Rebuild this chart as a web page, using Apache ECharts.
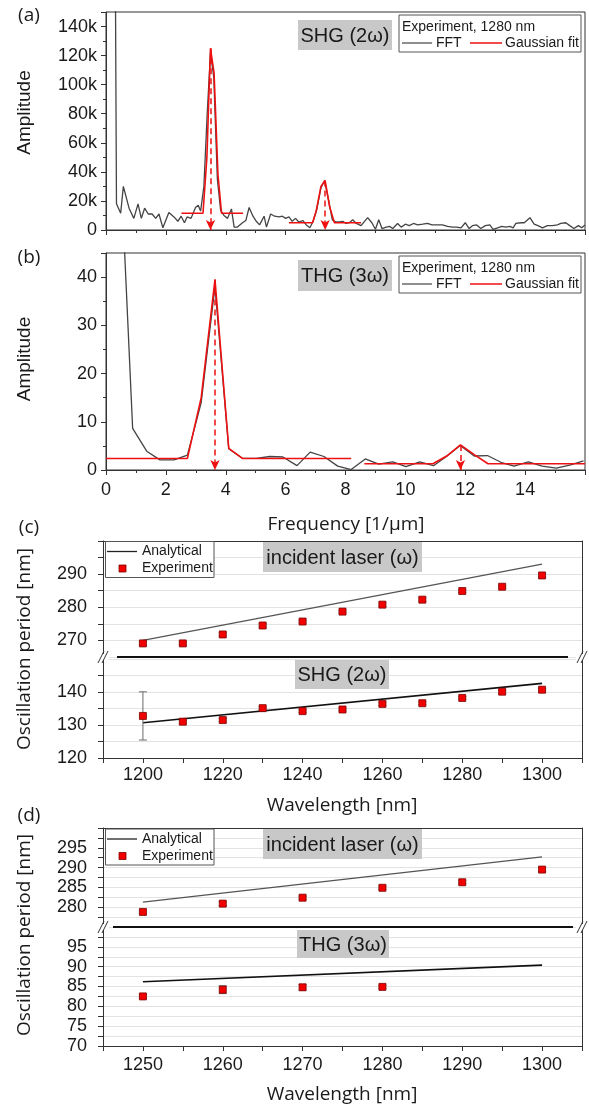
<!DOCTYPE html>
<html>
<head>
<meta charset="utf-8">
<title>FFT amplitude and oscillation period</title>
<script src="https://cdn.jsdelivr.net/npm/echarts@6/dist/echarts.min.js"></script>
<style>html,body{margin:0;padding:0;background:#fff;}</style>
</head>
<body>
<div id="main" style="width:589px;height:1108px;"></div>
<script>
// ---- (a) SHG, FFT amplitude, [frequency 1/um, amplitude k] ----
var fftA = [[0.26,400],[0.35,18],[0.49,11.5],[0.58,30],[0.77,15],[0.93,8],[1.07,18],[1.18,8],[1.29,15],
  [1.41,11],[1.54,11],[1.66,8],[1.77,11],[1.9,1.5],[2.1,12],[2.27,9],[2.4,6],[2.51,9.5],[2.62,5],[2.71,9],
  [2.84,8],[2.99,15.5],[3.08,17],[3.16,13],[3.27,30],[3.38,80],[3.49,122],[3.6,105],[3.72,35],[3.83,13.5],
  [3.94,10],[4.06,8],[4.19,14.5],[4.28,2],[4.39,2],[4.56,5],[4.67,6.5],[4.78,15.5],[4.91,9.5],[5.02,6],
  [5.13,3.5],[5.28,9.5],[5.36,2],[5.5,11],[5.63,9.5],[5.78,9],[5.89,9.5],[6.0,8],[6.11,9],[6.22,6],[6.33,8],
  [6.44,5.5],[6.58,6.5],[6.69,3.5],[6.81,1.5],[6.92,6],[7.04,14],[7.18,29],[7.3,34],[7.44,20],[7.56,7],
  [7.68,5.5],[7.8,5.5],[7.91,6],[8.02,4.5],[8.13,5],[8.24,7],[8.36,4.5],[8.52,3],[8.74,8.5],[8.88,5],[9.0,0.5],
  [9.11,7],[9.22,1],[9.36,2],[9.47,2.5],[9.58,1],[9.74,4.5],[9.86,2],[10.0,4],[10.13,3],[10.27,4.5],[10.41,3.5],
  [10.58,4],[10.74,4.5],[10.89,3.5],[11.08,3.5],[11.24,3.5],[11.41,2.5],[11.58,2],[11.71,2],[11.86,1.5],
  [12.0,5],[12.13,1],[12.24,3],[12.38,3.5],[12.52,1],[12.67,3],[12.82,3.5],[12.93,0.5],[13.08,1.5],[13.22,2.5],
  [13.36,2],[13.49,2.5],[13.6,1.5],[13.69,4.5],[13.86,5],[13.97,5],[14.16,8.5],[14.3,4],[14.43,3],[14.58,1.5],
  [14.74,3],[14.91,3],[15.08,3.5],[15.19,4.5],[15.36,5],[15.49,3],[15.63,1],[15.78,3],[15.89,1.5],[16.0,3.5]];
var fitA1 = [[2.52,11.5],[3.24,11.5],[3.37,50],[3.49,125],[3.61,108],[3.74,38],[3.86,11.5],[4.58,11.5]];
var fitA2 = [[6.11,5],[6.9,5],[7.02,13],[7.18,30],[7.32,34],[7.47,16],[7.63,5],[7.75,5],[8.52,5]];
var peaksA = [[3.49,125],[7.32,34]];

// ---- (b) THG, FFT amplitude ----
var fftB = [[0.44,70],[0.89,8.65],[1.36,3.9],[1.8,2.1],[2.27,2.1],[2.72,3.1],[3.18,14],[3.64,38],[4.1,4.4],
  [4.56,2.4],[5.02,2.4],[5.47,2.8],[5.91,2.7],[6.38,0.9],[6.82,3.7],[7.28,2.8],[7.74,0.8],[8.19,0.1],[8.66,2.3],
  [9.11,1.2],[9.58,1.7],[10.02,0.7],[10.48,1.7],[10.94,0.9],[11.37,2.8],[11.83,5.1],[12.3,2.9],[12.74,3.0],
  [13.19,1.6],[13.63,0.8],[14.11,1.7],[14.57,0.8],[15.04,0.4],[15.49,1.0],[15.95,1.9]];
var fitB1 = [[0,2.4],[2.72,2.4],[3.18,15],[3.64,39.5],[4.1,4.5],[4.56,2.4],[8.19,2.4]];
var fitB2 = [[8.63,1.3],[10.92,1.3],[11.38,2.9],[11.84,5.2],[12.3,3.2],[12.76,1.3],[16,1.3]];
var peaksB = [[3.64,39.5],[11.84,5.2]];

// ---- (c) incident laser + SHG periods ----
var wlC = [1200,1210,1220,1230,1240,1250,1260,1270,1280,1290,1300];
var laserC = [269.1,269.1,271.8,274.5,275.7,278.7,280.8,282.3,284.9,286.2,289.6];
var laserCErr = [0.5,0.4,0.5,0.5,0.4,0.4,0.5,0.5,0.4,0.4,0.5];
var shgC = [132.75,131.0,131.5,135.1,134.2,134.7,136.4,136.6,138.2,140.1,140.7];
var shgCErr = [7.3,0.4,0.5,0.5,0.4,0.4,0.5,0.4,0.4,0.5,0.4];
var analyticLaserC = [[1200,270.0],[1300,293.0]];
var analyticShgC = [[1200,130.7],[1300,142.6]];

// ---- (d) incident laser + THG periods ----
var wlD = [1250,1260,1270,1280,1290,1300];
var laserD = [278.8,280.9,282.4,284.9,286.3,289.5];
var laserDErr = [0.4,0.5,0.4,0.4,0.4,0.5];
var wlD2 = [1250,1260,1270,1280];
var thgD = [82.5,84.2,84.8,84.9];
var thgDErr = [0.5,1.0,0.7,0.4];
var analyticLaserD = [[1250,281.3],[1300,292.7]];
var analyticThgD = [[1250,86.2],[1300,90.4]];

var RED = '#ee1111';
var GREY = '#444444';
var AX = {color:'#333', width:1};
var ARIAL = '"Liberation Sans", Arial, sans-serif';
var OPEN = '"Open Sans", "DejaVu Sans", sans-serif';
var tickFont = {fontFamily: ARIAL, fontSize: 18, color: '#1a1a1a'};

function pairs(xs, ys) { return xs.map(function (x, i) { return [x, ys[i]]; }); }

function gridBox(left, top, width, height, border) {
  return {left:left, top:top, width:width, height:height, show:border, borderColor:'#333', borderWidth:1,
    containLabel:false, outerBoundsMode:'none'};
}

function xAx(grid, min, max, step, labelFn, pos, margin) {
  return {gridIndex:grid, type:'value', min:min, max:max, interval:step, position:pos || 'bottom',
    axisLine:{show:true, onZero:false, lineStyle:AX},
    axisTick:{show:!!labelFn || pos !== 'top', length:5, lineStyle:AX},
    minorTick:{show:false},
    axisLabel: labelFn ? Object.assign({show:true, margin:margin, formatter:labelFn}, tickFont) : {show:false},
    splitLine:{show:false}};
}

function yAx(grid, min, max, step, labelFn, margin, split) {
  return {gridIndex:grid, type:'value', min:min, max:max, interval:step, position:'left',
    axisLine:{show:true, onZero:false, lineStyle:AX},
    axisTick:{show:true, length:5, lineStyle:AX},
    axisLabel: Object.assign({show:true, margin:margin, formatter:labelFn}, tickFont),
    splitLine:{show:!!split, lineStyle:{color:'#e3e3e3', width:1}}};
}

function rightAx(grid, min, max) {
  return {gridIndex:grid, type:'value', min:min, max:max, position:'right',
    axisLine:{show:true, onZero:false, lineStyle:AX}, axisTick:{show:false},
    axisLabel:{show:false}, splitLine:{show:false}};
}

function lineS(name, data, xi, yi, color, width, z) {
  return {name:name, type:'line', xAxisIndex:xi, yAxisIndex:yi, data:data, symbol:'none',
    lineStyle:{color:color, width:width}, itemStyle:{color:color}, z:z || 2, clip:true};
}

function arrows(peaks) {
  return {silent:true, symbol:['none','arrow'], symbolSize:[7,10],
    lineStyle:{type:[6,4], color:RED, width:1.5}, label:{show:false},
    data: peaks.map(function (p) { return [{coord:[p[0], p[1]]}, {coord:[p[0], 0]}]; })};
}

function scatterS(xs, ys, xi, yi) {
  return {name:'Experiment', type:'scatter', xAxisIndex:xi, yAxisIndex:yi, data:pairs(xs, ys),
    symbol:'rect', symbolSize:7, z:4,
    itemStyle:{color:'#f20000', borderColor:'#7a0000', borderWidth:0.8, opacity:1}};
}

function errS(xs, ys, es, xi, yi) {
  return {type:'custom', xAxisIndex:xi, yAxisIndex:yi, z:3, silent:true,
    encode:{x:0, y:[1,2]},
    data: xs.map(function (x, i) { return [x, ys[i] - es[i], ys[i] + es[i]]; }),
    renderItem: function (params, api) {
      var lo = api.coord([api.value(0), api.value(1)]);
      var hi = api.coord([api.value(0), api.value(2)]);
      var st = {stroke:'#6a6a6a', lineWidth:1};
      return {type:'group', children:[
        {type:'line', shape:{x1:lo[0], y1:lo[1], x2:hi[0], y2:hi[1]}, style:st},
        {type:'line', shape:{x1:lo[0]-4, y1:lo[1], x2:lo[0]+4, y2:lo[1]}, style:st},
        {type:'line', shape:{x1:hi[0]-4, y1:hi[1], x2:hi[0]+4, y2:hi[1]}, style:st}]};
    }};
}

// ---- decorations ----
function txt(s, x, y, font, align, extra) {
  return Object.assign({type:'text', z:100, style:{text:s, x:x, y:y, font:font, fill:'#1a1a1a',
    align:align || 'center', verticalAlign:'middle', textAlign:align || 'center', textVerticalAlign:'middle'}}, extra || {});
}
function ln(x1, y1, x2, y2, color, w) {
  return {type:'line', z:100, shape:{x1:x1, y1:y1, x2:x2, y2:y2}, style:{stroke:color, lineWidth:w}};
}
function box(x, y, w, h, fill, stroke) {
  return {type:'rect', z:99, shape:{x:x, y:y, width:w, height:h}, style:{fill:fill, stroke:stroke || null, lineWidth:1}};
}
function vtxt(s, x, y, font) {
  return {type:'text', z:100, x:x, y:y, rotation:Math.PI / 2,
    style:{text:s, x:0, y:0, font:font, fill:'#1a1a1a', align:'center', verticalAlign:'middle',
      textAlign:'center', textVerticalAlign:'middle'}};
}
function legendFFT(top) {
  var f = '14px ' + ARIAL;
  return [box(399, top, 182, 37, '#fff', '#555'),
    txt('Experiment, 1280 nm', 402, top + 12, f, 'left'),
    ln(402, top + 28, 432, top + 28, GREY, 1.2), txt('FFT', 436, top + 28, f, 'left'),
    ln(470, top + 28, 502, top + 28, RED, 1.5), txt('Gaussian fit', 505, top + 28, f, 'left')];
}
function legendPeriod(top) {
  var f = '14px ' + ARIAL;
  return [box(105.5, top, 108.5, 36, '#fff', '#555'),
    ln(107, top + 10, 137, top + 10, '#222', 1.3), txt('Analytical', 142, top + 10, f, 'left'),
    {type:'rect', z:100, shape:{x:119, y:top + 23.5, width:7, height:7}, style:{fill:'#f20000', stroke:'#7a0000', lineWidth:0.8}},
    txt('Experiment', 142, top + 27, f, 'left')];
}
function tag(s, x, y, w, h) {
  return [box(x, y, w, h, '#c8c8c8'), txt(s, x + w / 2, y + h / 2 + 1, '20px ' + ARIAL, 'center')];
}
function brk(y, x1, x2) {
  return [ln(x1, y, x2, y, '#111', 2),
    {type:'rect', z:99, shape:{x:97, y:y - 3, width:12, height:6}, style:{fill:'#fff'}},
    {type:'rect', z:99, shape:{x:576, y:y - 3, width:12, height:6}, style:{fill:'#fff'}},
    ln(98, y + 6, 104, y - 6, '#333', 1), ln(102, y + 6, 108, y - 6, '#333', 1),
    ln(577, y + 6, 583, y - 6, '#333', 1), ln(581, y + 6, 587, y - 6, '#333', 1)];
}

var graphics = [].concat(
  txt('(a)', 29, 15.5, '19px ' + OPEN), txt('(b)', 29, 257.5, '19px ' + OPEN),
  txt('(c)', 29, 528, '19px ' + OPEN), txt('(d)', 29, 815.5, '19px ' + OPEN),
  vtxt('Amplitude', 25, 112.5, '19px ' + ARIAL), vtxt('Amplitude', 25, 359, '19px ' + ARIAL),
  vtxt('Oscillation period [nm]', 25, 649, '19px ' + OPEN), vtxt('Oscillation period [nm]', 25, 935, '19px ' + OPEN),
  txt('Frequency [1/\u03bcm]', 346, 525, '19px ' + OPEN),
  txt('Wavelength [nm]', 342, 806, '19px ' + OPEN),
  txt('Wavelength [nm]', 342, 1095, '19px ' + OPEN),
  tag('SHG (2\u03c9)', 298, 20, 94, 30), tag('THG (3\u03c9)', 298, 260, 94, 31),
  tag('incident laser (\u03c9)', 263, 542, 159, 30), tag('SHG (2\u03c9)', 295, 660, 94, 29),
  tag('incident laser (\u03c9)', 263, 829, 159, 30), tag('THG (3\u03c9)', 297, 930, 92, 28),
  legendFFT(15), legendFFT(256), legendPeriod(541.5), legendPeriod(829),
  brk(657, 117, 568), brk(927, 113, 573)
);

var freqLabel = function (v) { return v < 16 ? String(v) : ''; };
var kLabel = function (v) { return v % 20 === 0 && v <= 140 ? (v === 0 ? '0' : v + 'k') : ''; };

var option = {
  animation: false,
  backgroundColor: '#fff',
  grid: [
    gridBox(106, 12, 479, 218, true),
    gridBox(106, 253, 479, 217, true),
    gridBox(103, 541, 479, 116, false),
    gridBox(103, 659, 479, 99, false),
    gridBox(103, 828, 479, 99, false),
    gridBox(103, 927, 479, 119, false)
  ],
  xAxis: [
    Object.assign(xAx(0, 0, 16, 2, null), {minorTick:{show:true, splitNumber:2, length:3, lineStyle:AX}}),
    Object.assign(xAx(1, 0, 16, 2, freqLabel, 'bottom', 11), {minorTick:{show:true, splitNumber:2, length:3, lineStyle:AX}}),
    xAx(2, 1190, 1310, 10, null, 'top'),
    xAx(3, 1190, 1310, 10, function (v) { return v % 20 === 0 && v >= 1200 && v <= 1300 ? String(v) : ''; }, 'bottom', 8),
    xAx(4, 1245, 1305, 5, null, 'top'),
    xAx(5, 1245, 1305, 5, function (v) { return v % 10 === 0 ? String(v) : ''; }, 'bottom', 10)
  ],
  yAxis: [
    Object.assign(yAx(0, 0, 150, 20, kLabel, 9, false), {minorTick:{show:true, splitNumber:2, length:3, lineStyle:AX}}),
    Object.assign(yAx(1, 0, 45, 10, function (v) { return v <= 40 ? String(v) : ''; }, 9, false),
      {minorTick:{show:true, splitNumber:2, length:3, lineStyle:AX}}),
    yAx(2, 265, 300, 5, function (v) { return v % 10 === 0 && v < 300 ? String(v) : ''; }, 16, true),
    yAx(3, 120, 150, 5, function (v) { return v % 10 === 0 && v < 150 ? String(v) : ''; }, 16, true),
    yAx(4, 275, 300, 2.5, function (v) { return v % 5 === 0 && v > 275 && v < 300 ? String(v) : ''; }, 16, true),
    yAx(5, 70, 100, 2.5, function (v) { return v % 5 === 0 && v < 100 ? String(v) : ''; }, 16, true),
    rightAx(2, 265, 300), rightAx(3, 120, 150), rightAx(4, 275, 300), rightAx(5, 70, 100)
  ],
  series: [
    lineS('FFT', fftA, 0, 0, GREY, 1.3, 2),
    Object.assign(lineS('Gaussian fit', fitA1, 0, 0, RED, 1.6, 3), {markLine: arrows(peaksA)}),
    lineS('Gaussian fit', fitA2, 0, 0, RED, 1.6, 3),
    lineS('FFT', fftB, 1, 1, GREY, 1.3, 2),
    Object.assign(lineS('Gaussian fit', fitB1, 1, 1, RED, 1.6, 3), {markLine: arrows(peaksB)}),
    lineS('Gaussian fit', fitB2, 1, 1, RED, 1.6, 3),

    lineS('Analytical', analyticLaserC, 2, 2, '#555', 1.3, 2),
    errS(wlC, laserC, laserCErr, 2, 2),
    scatterS(wlC, laserC, 2, 2),
    lineS('Analytical', analyticShgC, 3, 3, '#111', 1.6, 2),
    errS(wlC, shgC, shgCErr, 3, 3),
    scatterS(wlC, shgC, 3, 3),

    lineS('Analytical', analyticLaserD, 4, 4, '#555', 1.3, 2),
    errS(wlD, laserD, laserDErr, 4, 4),
    scatterS(wlD, laserD, 4, 4),
    lineS('Analytical', analyticThgD, 5, 5, '#111', 1.6, 2),
    errS(wlD2, thgD, thgDErr, 5, 5),
    scatterS(wlD2, thgD, 5, 5)
  ],
  graphic: {elements: graphics}
};

var myChart = echarts.init(document.getElementById('main'));
myChart.setOption(option);
</script>
</body>
</html>
